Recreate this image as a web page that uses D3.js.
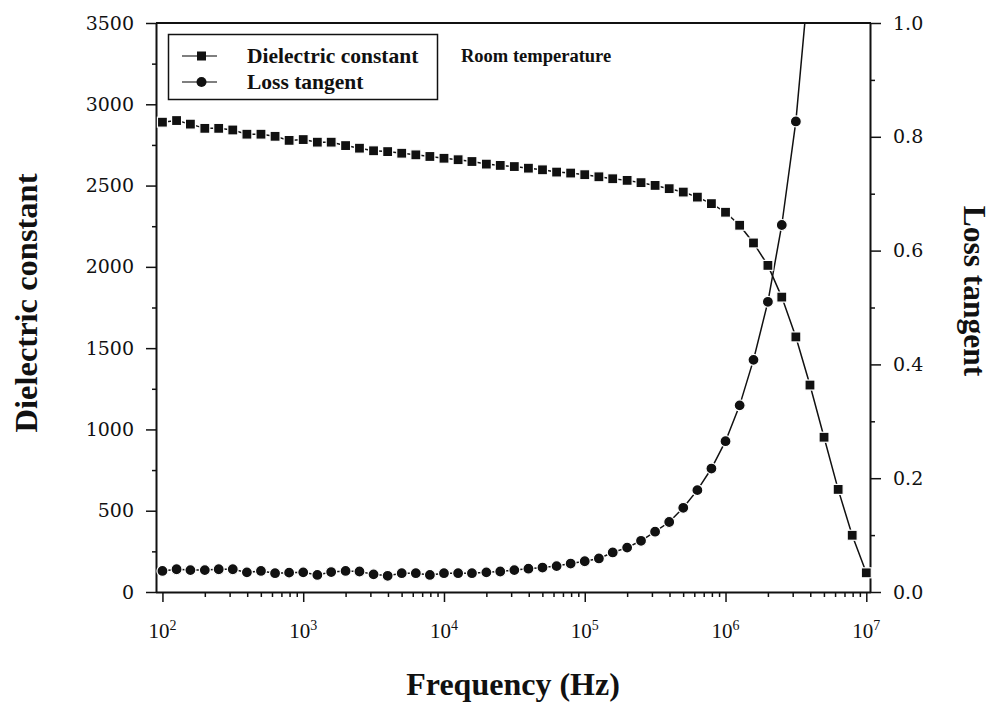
<!DOCTYPE html>
<html><head><meta charset="utf-8">
<script src="https://cdn.jsdelivr.net/npm/d3@7"></script>
<style>
html,body{margin:0;padding:0;background:#fff;}
svg{display:block;}
</style></head>
<body>
<svg id="chart" width="993" height="703"></svg>
<script>
// ---------- data ----------
const frequencies = [
  100,126,158,200,251,316,398,501,631,794,
  1e3,1.26e3,1.58e3,2e3,2.51e3,3.16e3,3.98e3,5.01e3,6.31e3,7.94e3,
  1e4,1.26e4,1.58e4,2e4,2.51e4,3.16e4,3.98e4,5.01e4,6.31e4,7.94e4,
  1e5,1.26e5,1.58e5,2e5,2.51e5,3.16e5,3.98e5,5.01e5,6.31e5,7.94e5,
  1e6,1.26e6,1.58e6,2e6,2.51e6,3.16e6,3.98e6,5.01e6,6.31e6,7.94e6,
  1e7
];
const dielectricConstant = [
  2890,2900,2878,2852,2852,2842,2816,2816,2803,2778,
  2783,2767,2767,2746,2730,2714,2709,2699,2689,2679,
  2668,2659,2648,2632,2624,2617,2607,2597,2583,2577,
  2567,2554,2542,2532,2518,2501,2481,2460,2429,2389,
  2336,2256,2147,2009,1814,1569,1273,952,631,349,
  118
];
const lossTangent = [
  0.037,0.040,0.0385,0.0385,0.040,0.040,0.0345,0.037,0.033,0.034,
  0.0345,0.030,0.035,0.037,0.036,0.031,0.0285,0.033,0.033,0.030,
  0.033,0.033,0.033,0.0345,0.036,0.0385,0.041,0.043,0.0455,0.050,
  0.054,0.059,0.0695,0.078,0.090,0.106,0.123,0.148,0.179,0.217,
  0.265,0.328,0.408,0.510,0.645,0.827,1.10
];
const xTicks = [1e2,1e3,1e4,1e5,1e6,1e7];
const xTickExps = ["2","3","4","5","6","7"];
const yLeftTicks = [0,500,1000,1500,2000,2500,3000,3500];
const yRightTicks = [0.0,0.2,0.4,0.6,0.8,1.0];
const seriesNames = ["Dielectric constant","Loss tangent"];
const noteText = "Room temperature";
const xTitle = "Frequency (Hz)";
const yLeftTitle = "Dielectric constant";
const yRightTitle = "Loss tangent";

// ---------- layout ----------
const L = 156, R = 871, T = 23, B = 592;
const svg = d3.select("#chart");
const x = d3.scaleLog().domain([90, 1.08e7]).range([L, R]);
const yL = d3.scaleLinear().domain([0, 3500]).range([B, T]);
const yR = d3.scaleLinear().domain([0, 1]).range([B, T]);
const ink = "#111";
const serif = "'Liberation Serif','Times New Roman',serif";
const tickFont = "'DejaVu Serif',serif";

svg.append("defs").append("clipPath").attr("id","plotclip")
  .append("rect").attr("x",L).attr("y",T).attr("width",R-L).attr("height",B-T);

// ---------- axes ----------
const minorX = [];
for (let e = 2; e <= 6; e++) for (let m = 2; m <= 9; m++) minorX.push(m * Math.pow(10, e));
const gx = svg.append("g").attr("transform",`translate(0,${B})`);
gx.call(d3.axisBottom(x).tickValues(minorX).tickSize(5).tickFormat(""));
gx.call(g => g.select(".domain").remove());
const gx2 = svg.append("g").attr("transform",`translate(0,${B})`)
  .call(d3.axisBottom(x).tickValues(xTicks).tickSize(10).tickFormat("").tickSizeOuter(0));
gx2.select(".domain").attr("d",`M${L},0.5H${R}`);
const xl = svg.append("g");
xTicks.forEach((v,i) => {
  const t = xl.append("text").attr("y",638).attr("text-anchor","middle")
    .attr("x", x(v)).attr("font-family",serif).attr("font-size",21).attr("fill",ink);
  t.append("tspan").text("10");
  t.append("tspan").attr("dy",-8).attr("font-size",14).text(xTickExps[i]);
});

const minorYL = d3.range(250, 3500, 500);
const gyl = svg.append("g").attr("transform",`translate(${L},0)`);
gyl.call(d3.axisLeft(yL).tickValues(minorYL).tickSize(4).tickFormat(""));
gyl.select(".domain").remove();
const gyl2 = svg.append("g").attr("transform",`translate(${L},0)`)
  .call(d3.axisLeft(yL).tickValues(yLeftTicks).tickSize(10).tickSizeOuter(0).tickPadding(12).tickFormat(d3.format("d")));
gyl2.select(".domain").attr("d",`M0.5,${B}V${T}`);
gyl2.selectAll("text").attr("font-family",tickFont).attr("font-size",19).attr("fill",ink);

const minorYR = d3.range(0.1, 1.0, 0.2);
const gyr = svg.append("g").attr("transform",`translate(${R},0)`);
gyr.call(d3.axisRight(yR).tickValues(minorYR).tickSize(4).tickFormat(""));
gyr.select(".domain").remove();
const gyr2 = svg.append("g").attr("transform",`translate(${R},0)`)
  .call(d3.axisRight(yR).tickValues(yRightTicks).tickSize(10).tickSizeOuter(0).tickPadding(12).tickFormat(d3.format(".1f")));
gyr2.select(".domain").attr("d",`M-0.5,${B}V${T}`);
gyr2.selectAll("text").attr("font-family",tickFont).attr("font-size",19).attr("fill",ink);

svg.selectAll(".tick line").attr("stroke",ink).attr("stroke-width",1.5);
svg.selectAll(".domain").attr("stroke",ink).attr("stroke-width",2);

svg.append("line").attr("x1",L).attr("x2",R).attr("y1",T).attr("y2",T)
  .attr("stroke",ink).attr("stroke-width",2);

// ---------- series ----------
const plot = svg.append("g");
const dcData = frequencies.map((f,i)=>({f, v: dielectricConstant[i]}));
const ltData = lossTangent.map((v,i)=>({f: frequencies[i], v}));

plot.append("path").datum(dcData)
  .attr("clip-path","url(#plotclip)")
  .attr("d", d3.line().x(d=>x(d.f)).y(d=>yL(d.v)))
  .attr("fill","none").attr("stroke",ink).attr("stroke-width",1.5);
plot.append("path").datum(ltData)
  .attr("clip-path","url(#plotclip)")
  .attr("d", d3.line().x(d=>x(d.f)).y(d=>yR(d.v)))
  .attr("fill","none").attr("stroke",ink).attr("stroke-width",1.5);

const sq = 10;
plot.selectAll("rect.dc").data(dcData).join("rect").attr("class","dc")
  .attr("x",d=>x(d.f)-sq/2).attr("y",d=>yL(d.v)-sq/2)
  .attr("width",sq).attr("height",sq)
  .attr("fill",ink).attr("stroke","#fff").attr("stroke-width",1.2);
plot.selectAll("circle.lt").data(ltData.filter(d=>d.v<=1)).join("circle").attr("class","lt")
  .attr("cx",d=>x(d.f)).attr("cy",d=>yR(d.v)).attr("r",5.5)
  .attr("fill",ink).attr("stroke","#fff").attr("stroke-width",1.2);

// ---------- legend ----------
const lg = svg.append("g");
lg.append("rect").attr("x",168.5).attr("y",34.5).attr("width",269).attr("height",65)
  .attr("fill","#fff").attr("stroke",ink).attr("stroke-width",1.5);
const rows = [{y:56, shape:"sq"},{y:82, shape:"ci"}];
rows.forEach((r,i)=>{
  lg.append("line").attr("x1",182).attr("x2",217).attr("y1",r.y).attr("y2",r.y)
    .attr("stroke","#555").attr("stroke-width",1.5);
  if (r.shape==="sq") lg.append("rect").attr("x",197).attr("y",r.y-4.5).attr("width",9).attr("height",9).attr("fill",ink);
  else lg.append("circle").attr("cx",201.5).attr("cy",r.y).attr("r",5).attr("fill",ink);
  lg.append("text").attr("x",247).attr("y",r.y+7).text(seriesNames[i])
    .attr("font-family",serif).attr("font-weight","bold").attr("font-size",21.5).attr("fill",ink);
});
svg.append("text").attr("x",461).attr("y",62).text(noteText)
  .attr("font-family",serif).attr("font-weight","bold").attr("font-size",18.5).attr("fill",ink);

// ---------- titles ----------
svg.append("text").attr("transform","translate(37,303) rotate(-90)").attr("text-anchor","middle")
  .text(yLeftTitle).attr("font-family",serif).attr("font-weight","bold").attr("font-size",32.5).attr("fill",ink);
svg.append("text").attr("transform","translate(964,291) rotate(90)").attr("text-anchor","middle")
  .text(yRightTitle).attr("font-family",serif).attr("font-weight","bold").attr("font-size",31.5).attr("fill",ink);
svg.append("text").attr("x",513).attr("y",695).attr("text-anchor","middle")
  .text(xTitle).attr("font-family",serif).attr("font-weight","bold").attr("font-size",32).attr("fill",ink);
</script>
</body></html>
